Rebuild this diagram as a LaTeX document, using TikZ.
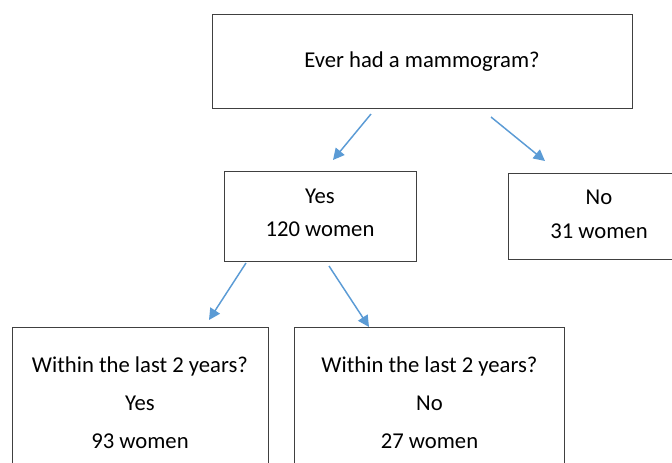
\documentclass[tikz,border=0pt]{standalone}
\usepackage{fontspec}
\setmainfont{Carlito}
\usetikzlibrary{arrows.meta}
\definecolor{arrowblue}{HTML}{5B9BD5}
\definecolor{boxgray}{HTML}{404040}
\tikzset{
  box/.style={draw=boxgray, line width=0.75pt, rectangle, inner sep=0pt, align=center},
  txt/.style={inner sep=0pt, align=center},
  conn/.style={draw=arrowblue, line width=1.1pt, -{Triangle[length=8.5pt,width=8.5pt]}},
}
\begin{document}
\begin{tikzpicture}[x=0.75pt,y=-0.75pt]
\useasboundingbox (0,0) rectangle (672,462);
\begin{scope}
\clip (0,0) rectangle (672,462);
\node[box, minimum width=315pt, minimum height=71pt, font=\fontsize{17}{20}\selectfont] (top) at (422,61.5) {Ever had a mammogram?};
\node[box, minimum width=144pt, minimum height=67.5pt] (yes) at (320,216) {};
\node[txt, font=\fontsize{17}{24.75}\selectfont] (yestxt) at (320,213) {Yes\\120 women};
\node[box, minimum width=136.5pt, minimum height=65pt] (no) at (599,216.5) {};
\node[txt, font=\fontsize{17}{25.5}\selectfont] (notxt) at (599,214) {No\\31 women};
\node[box, minimum width=192pt, minimum height=114pt, font=\fontsize{17}{28.5}\selectfont] (yy) at (140,403) {Within the last 2 years?\\Yes\\93 women};
\node[box, minimum width=202.5pt, minimum height=114pt, font=\fontsize{17}{28.5}\selectfont] (yn) at (429.5,403) {Within the last 2 years?\\No\\27 women};
\end{scope}
\coordinate (a1s) at (371,114);
\coordinate (a1e) at (333,160);
\coordinate (a2s) at (491,117);
\coordinate (a2e) at (545,161);
\coordinate (a3s) at (246,263);
\coordinate (a3e) at (209,320);
\coordinate (a4s) at (329,266);
\coordinate (a4e) at (369,327);
\draw[conn] (a1s) -- (a1e);
\draw[conn] (a2s) -- (a2e);
\draw[conn] (a3s) -- (a3e);
\draw[conn] (a4s) -- (a4e);
\end{tikzpicture}
\end{document}
